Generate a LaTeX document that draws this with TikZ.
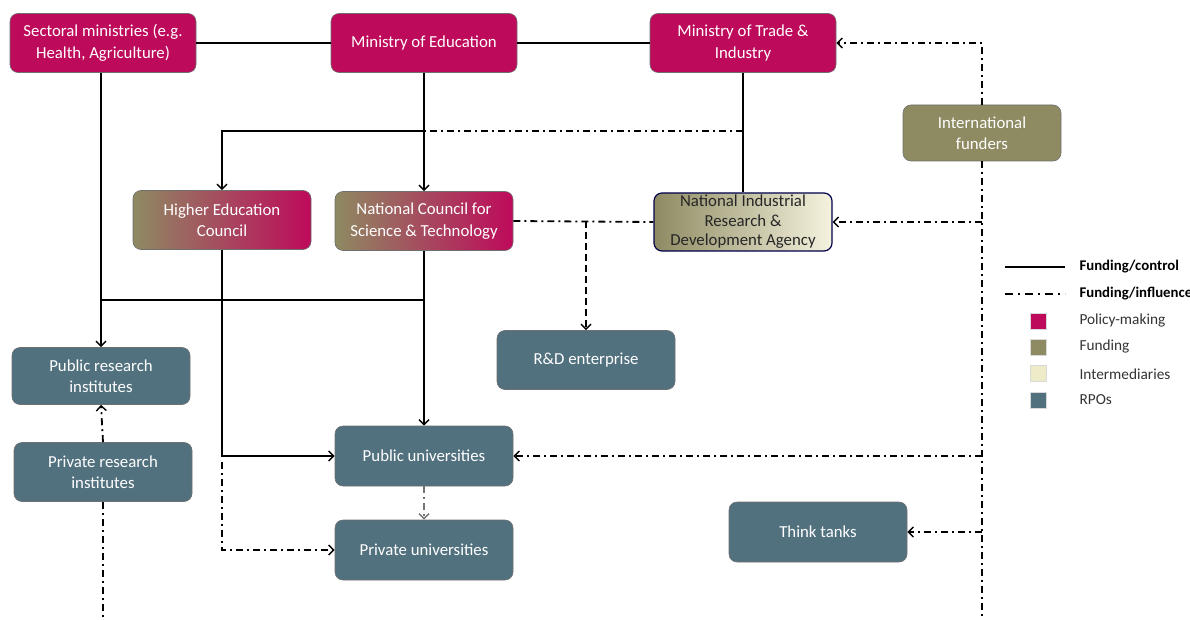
\documentclass[tikz,border=0pt]{standalone}
\usepackage{fontspec}
\setmainfont{Carlito}
\usetikzlibrary{arrows.meta}
\definecolor{pol}{HTML}{BE0A5B}
\definecolor{fund}{HTML}{8E8A62}
\definecolor{inter}{HTML}{EEEBC8}
\definecolor{rpo}{HTML}{52717F}
\definecolor{bord}{HTML}{6F6F6F}
\begin{document}
\begin{tikzpicture}[x=1pt,y=-1pt,
  box/.style={draw=bord, line width=0.6pt, rounded corners=8pt, minimum width=178pt,
    minimum height=59pt, align=center, text=white, inner sep=2pt,
    font=\fontsize{16.8}{21.5}\selectfont},
  polbox/.style={box, fill=pol, minimum width=186pt},
  fundbox/.style={box, fill=fund, minimum width=158pt, minimum height=56pt},
  rpobox/.style={box, fill=rpo},
  mixbox/.style={box, left color=fund, right color=pol},
  interbox/.style={box, left color=fund, right color=inter!60!white, draw=black!70!blue, line width=1.2pt, text=black!85, font=\fontsize{16.8}{19.5}\selectfont},
  ctl/.style={line width=1.8pt},
  inf/.style={line width=1.8pt, dash pattern=on 7pt off 4pt on 2pt off 4pt},
  arr/.style={-{Straight Barb[length=5pt,width=10pt,line width=1.4pt]}},
  legtxt/.style={anchor=west, text=black!80, font=\fontsize{15.3}{18}\selectfont},
  legsq/.style={minimum size=16pt, inner sep=0pt, draw=white!85!black, line width=0.4pt}
]
\useasboundingbox (0,0) rectangle (1190,620);
% nodes
\node[polbox] (sect) at (103,43) {Sectoral ministries (e.g.\\Health, Agriculture)};
\node[polbox] (moe) at (424,43) {Ministry of Education};
\node[polbox] (moti) at (743,43) {Ministry of Trade \&\\Industry};
\node[fundbox] (intf) at (982,133) {International\\funders};
\node[mixbox] (hec) at (222,220) {Higher Education\\Council};
\node[mixbox] (ncst) at (424,221) {National Council for\\Science \& Technology};
\node[interbox, minimum height=58pt, inner sep=0pt] (nirda) at (743,222) {National Industrial\\Research \&\\Development Agency};
\node[rpobox] (rd) at (586,360) {R\&D enterprise};
\node[rpobox, minimum height=57pt] (pri) at (101,376) {Public research\\institutes};
\node[rpobox] (prr) at (103,472) {Private research\\institutes};
\node[rpobox, minimum height=60pt] (pubu) at (424,456) {Public universities};
\node[rpobox, minimum height=60pt] (privu) at (424,550) {Private universities};
\node[rpobox, minimum height=60pt] (think) at (818,532) {Think tanks};
% junction coordinates
\coordinate (jA) at (424,131);
\coordinate (jB) at (424,300);
\coordinate (jC) at (222,462);
\coordinate (jD) at (586,221);
\coordinate (botF) at (982,620);
\coordinate (botP) at (103,620);
% funding/control
\draw[ctl] (sect) -- (moe);
\draw[ctl] (moe) -- (moti);
\draw[ctl,arr] (sect.south -| pri.north) -- (pri.north);
\draw[ctl,arr] (moe) -- (ncst);
\draw[ctl,arr] (jA) -| (hec.north);
\draw[ctl] (moti) -- (nirda);
\draw[ctl,arr] (ncst) -- (pubu);
\draw[ctl] (jB) -- (pri.north |- jB);
\draw[ctl,arr] (hec.south) |- (pubu.west);
% funding/influence
\draw[inf] (moti.south |- jA) -- (jA);
\draw[inf,arr] (jC) |- (privu.west);
\draw[inf,arr,black!55] (pubu) -- (privu);
\draw[inf] (ncst.east) -- (nirda.west);
\draw[ctl,dash pattern=on 7pt off 4pt,arr] (jD) -- (rd.north);
\draw[inf,arr] (intf.north) |- (moti.east);
\draw[inf] (intf.south) -- (botF);
\draw[inf,arr] (intf.south |- nirda.east) -- (nirda.east);
\draw[inf,arr] (intf.south |- pubu.east) -- (pubu.east);
\draw[inf,arr] (intf.south |- think.east) -- (think.east);
\draw[inf,arr] (prr.north) -- (pri.south);
\draw[inf] (prr.south) -- (botP);
% legend
\coordinate (l1a) at (1005,267); \coordinate (l1b) at (1065,267);
\coordinate (l2a) at (1005,294); \coordinate (l2b) at (1065,294);
\draw[ctl] (l1a) -- (l1b);
\draw[line width=1.8pt, dash pattern=on 8pt off 5pt on 2pt off 5pt] (l2a) -- (l2b);
\node[legtxt, font=\fontsize{14.8}{18}\selectfont\bfseries, text=black] (t1) at (1076,267) {Funding/control};
\node[legtxt, font=\fontsize{14.8}{18}\selectfont\bfseries, text=black] (t2) at (1076,294) {Funding/influence};
\node[legsq, fill=pol] (s1) at (1038,321) {};
\node[legsq, fill=fund] (s2) at (1038,347) {};
\node[legsq, fill=inter] (s3) at (1038,373) {};
\node[legsq, fill=rpo] (s4) at (1038,400) {};
\node[legtxt] (p1) at (1076,321) {Policy-making};
\node[legtxt] (p2) at (1076,347) {Funding};
\node[legtxt] (p3) at (1076,374) {Intermediaries};
\node[legtxt] (p4) at (1076,400) {RPOs};
\end{tikzpicture}
\end{document}
